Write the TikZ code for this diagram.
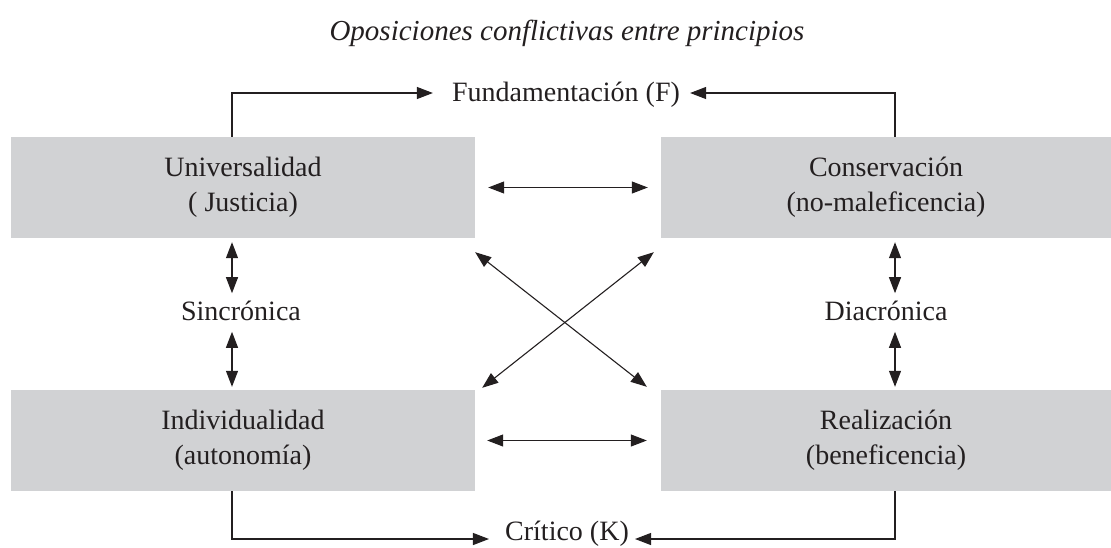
\documentclass[tikz,border=0pt]{standalone}
\usepackage{fontspec}
\setmainfont{Liberation Serif}
\usetikzlibrary{arrows.meta,calc}
\definecolor{boxgray}{HTML}{D1D2D4}
\definecolor{ink}{HTML}{231F20}
\begin{document}
\begin{tikzpicture}[x=1pt,y=-1pt,
  box/.style={fill=boxgray, draw=none, minimum height=101pt, inner sep=0pt,
    align=center, font=\fontsize{28}{35}\selectfont, text=ink},
  lbl/.style={font=\fontsize{28}{35}\selectfont, text=ink, inner sep=0pt},
  conn/.style={draw=ink, line width=1.1pt},
  tip/.style={-{Triangle[length=16pt,width=12pt]}},
  dtip/.style={{Triangle[length=16pt,width=12pt]}-{Triangle[length=16pt,width=12pt]}}]
\useasboundingbox (0,0) rectangle (1111,547);
% title
\node[font=\itshape\fontsize{29}{33}\selectfont, text=ink, inner sep=0pt] (title) at (567,33) {Oposiciones conflictivas entre principios};
% boxes
\node[box, minimum width=464pt] (tl) at (243,187.5) {Universalidad\\( Justicia)};
\node[box, minimum width=450pt] (tr) at (886,187.5) {Conservación\\(no-maleficencia)};
\node[box, minimum width=464pt] (bl) at (243,440.5) {Individualidad\\(autonomía)};
\node[box, minimum width=450pt] (br) at (886,440.5) {Realización\\(beneficencia)};
% labels
\node[lbl] (F) at (566,95) {Fundamentación (F)};
\node[lbl] (K) at (567,534) {Crítico (K)};
\node[lbl] (S) at (241,311) {Sincrónica};
\node[lbl] (D) at (886,311) {Diacrónica};
% top and bottom connectors
\draw[conn,tip] ($(tl.north)+(-11,0)$) |- ($(F.west)+(-19,-2)$);
\draw[conn,tip] ($(tr.north)+(9,0)$) |- ($(F.east)+(10,-2)$);
\draw[conn,tip] ($(bl.south)+(-11,0)$) |- ($(K.west)+(-16,5)$);
\draw[conn,tip] ($(br.south)+(9,0)$) |- ($(K.east)+(6,5)$);
% horizontal
\draw[conn,dtip] ($(tl.east)+(13,0)$) -- ($(tr.west)+(-13,0)$);
\draw[conn,dtip] ($(bl.east)+(12,0)$) -- ($(br.west)+(-14,0)$);
% vertical
\draw[conn,dtip] ($(tl.south)+(-11,4)$) -- ($(tl.south)+(-11,55)$);
\draw[conn,dtip] ($(bl.north)+(-11,-58)$) -- ($(bl.north)+(-11,-3)$);
\draw[conn,dtip] ($(tr.south)+(9,4)$) -- ($(tr.south)+(9,55)$);
\draw[conn,dtip] ($(br.north)+(9,-58)$) -- ($(br.north)+(9,-3)$);
% diagonals
\draw[conn,dtip] ($(tl.south east)+(0,14)$) -- ($(br.north west)+(-14,-3)$);
\draw[conn,dtip] ($(tr.south west)+(-7,14)$) -- ($(bl.north east)+(7,-2)$);
\end{tikzpicture}
\end{document}
